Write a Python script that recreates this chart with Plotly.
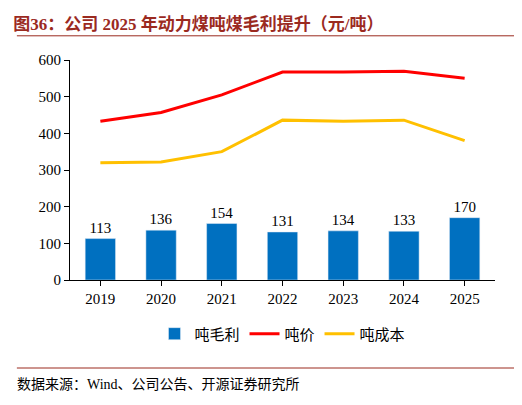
import plotly.graph_objects as go

years = ["2019", "2020", "2021", "2022", "2023", "2024", "2025"]
margin = [113, 136, 154, 131, 134, 133, 170]
price = [433, 457, 505, 567, 567, 569, 550]
cost = [320, 322, 350, 436, 433, 436, 380]

font = "Times New Roman, Liberation Serif, Noto Sans CJK SC"

fig = go.Figure()
fig.add_bar(x=years, y=margin, name="吨毛利", marker_color="#0070C0", width=0.5,
            text=margin, textposition="outside", textfont=dict(size=15, color="black"))
fig.add_scatter(x=years, y=price, name="吨价", mode="lines", line=dict(color="#FF0000", width=3))
fig.add_scatter(x=years, y=cost, name="吨成本", mode="lines", line=dict(color="#FFC000", width=3))

fig.update_layout(
    width=522, height=405, plot_bgcolor="white", paper_bgcolor="white",
    margin=dict(l=62, r=35, t=52, b=133),
    font=dict(family=font, size=15, color="black"),
    bargap=0.5,
    legend=dict(orientation="h", x=0.5, xanchor="center", y=-0.17, yanchor="top",
                font=dict(size=15)),
    title=dict(text="<b>图36：公司 2025 年动力煤吨煤毛利提升（元/吨）</b>", x=0.01, y=0.975,
               xanchor="left", font=dict(size=17, color="#9B2A1F")),
    shapes=[
        dict(type="line", xref="paper", yref="paper", x0=-0.125, x1=1.07, y0=1.11, y1=1.11,
             line=dict(color="#9B2A1F", width=1)),
        dict(type="line", xref="paper", yref="paper", x0=-0.125, x1=1.07, y0=-0.4, y1=-0.4,
             line=dict(color="#9B2A1F", width=1)),
    ],
    annotations=[dict(text="数据来源：Wind、公司公告、开源证券研究所", xref="paper", yref="paper",
                      x=-0.13, y=-0.43, xanchor="left", yanchor="top", showarrow=False,
                      font=dict(size=14))],
)
fig.update_xaxes(showline=True, linecolor="black", ticks="outside", tickcolor="black")
fig.update_yaxes(range=[0, 600], dtick=100, showline=True, linecolor="black", ticks="outside",
                 tickcolor="black", showgrid=False)
fig.write_html("out.html")
